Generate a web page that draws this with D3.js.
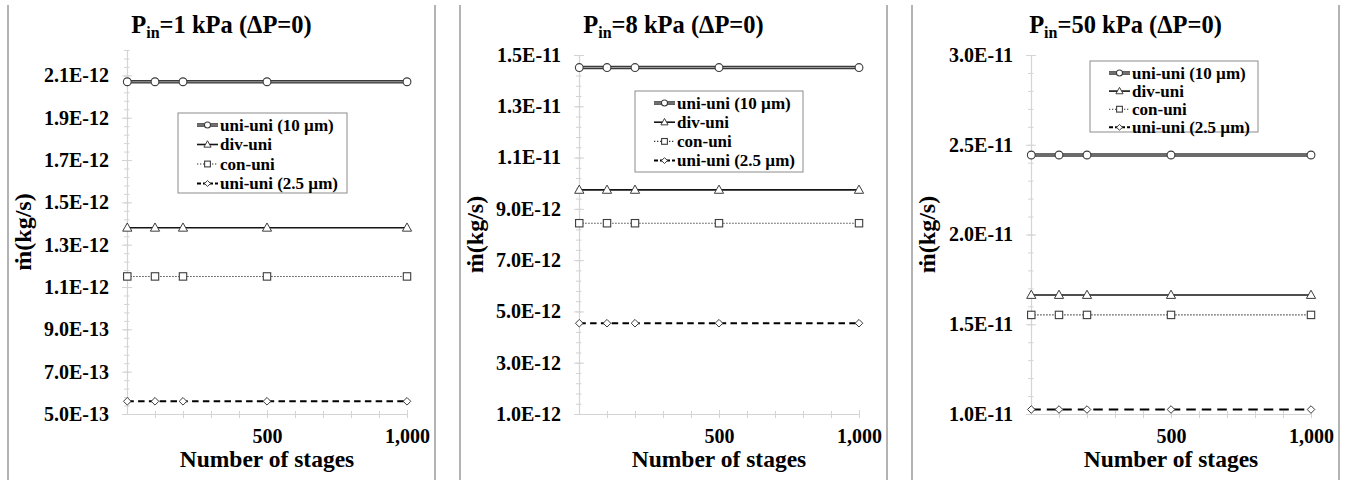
<!DOCTYPE html>
<html>
<head>
<meta charset="utf-8">
<script src="https://cdn.jsdelivr.net/npm/d3@7"></script>
<style>
  body { margin: 0; background: #fff; }
  text { font-family: "Liberation Serif", "Times New Roman", serif; font-weight: bold; fill: #000; }
</style>
</head>
<body>
<svg id="chart" width="1349" height="480"></svg>
<script>
// Number of stages sampled in every run
const stages = [1, 100, 200, 500, 1000];
const seriesNames = ["uni-uni (10 µm)", "div-uni", "con-uni", "uni-uni (2.5 µm)"];
const panelPressures = ["1 kPa", "8 kPa", "50 kPa"];

// Mass flow rate (kg/s), inlet pressure 1 kPa
const p1UniUni10 = [2.07e-12, 2.07e-12, 2.07e-12, 2.07e-12, 2.07e-12];
const p1DivUni = [1.38e-12, 1.38e-12, 1.38e-12, 1.38e-12, 1.38e-12];
const p1ConUni = [1.15e-12, 1.15e-12, 1.15e-12, 1.15e-12, 1.15e-12];
const p1UniUni25 = [5.6e-13, 5.6e-13, 5.6e-13, 5.6e-13, 5.6e-13];

// Mass flow rate (kg/s), inlet pressure 8 kPa
const p2UniUni10 = [1.451e-11, 1.451e-11, 1.451e-11, 1.451e-11, 1.451e-11];
const p2DivUni = [9.74e-12, 9.74e-12, 9.74e-12, 9.74e-12, 9.74e-12];
const p2ConUni = [8.44e-12, 8.44e-12, 8.44e-12, 8.44e-12, 8.44e-12];
const p2UniUni25 = [4.54e-12, 4.54e-12, 4.54e-12, 4.54e-12, 4.54e-12];

// Mass flow rate (kg/s), inlet pressure 50 kPa
const p3UniUni10 = [2.443e-11, 2.443e-11, 2.443e-11, 2.443e-11, 2.443e-11];
const p3DivUni = [1.663e-11, 1.663e-11, 1.663e-11, 1.663e-11, 1.663e-11];
const p3ConUni = [1.552e-11, 1.552e-11, 1.552e-11, 1.552e-11, 1.552e-11];
const p3UniUni25 = [1.025e-11, 1.025e-11, 1.025e-11, 1.025e-11, 1.025e-11];

// Axis extents and tick labels
const xDomain = [0, 1000];
const xTicks = [500, 1000];
const xMinorTicks = [100, 200, 300, 400, 500, 600, 700, 800, 900, 1000];
const p1YDomain = [5e-13, 2.22e-12];
const p2YDomain = [1e-12, 1.5e-11];
const p3YDomain = [1e-11, 3e-11];
const p1YTicks = [5e-13, 7e-13, 9e-13, 1.1e-12, 1.3e-12, 1.5e-12, 1.7e-12, 1.9e-12, 2.1e-12];
const p2YTicks = [1e-12, 3e-12, 5e-12, 7e-12, 9e-12, 1.1e-11, 1.3e-11, 1.5e-11];
const p3YTicks = [1e-11, 1.5e-11, 2e-11, 2.5e-11, 3e-11];
const p1YMinorStep = 4e-14;
const p2YMinorStep = 4e-13;
const p3YMinorStep = 1e-12;

const panels = [
  { pressure: panelPressures[0], values: [p1UniUni10, p1DivUni, p1ConUni, p1UniUni25],
    yDomain: p1YDomain, yTicks: p1YTicks, minorStep: p1YMinorStep, top: 50,
    dash: "6.5,4.3", legend: { x: 178, y: 113, w: 169, h: 80, row: 19.5 } },
  { pressure: panelPressures[1], values: [p2UniUni10, p2DivUni, p2ConUni, p2UniUni25],
    yDomain: p2YDomain, yTicks: p2YTicks, minorStep: p2YMinorStep, top: 55,
    dash: "6.5,4.3", legend: { x: 183, y: 91, w: 168, h: 81, row: 19.2 } },
  { pressure: panelPressures[2], values: [p3UniUni10, p3DivUni, p3ConUni, p3UniUni25],
    yDomain: p3YDomain, yTicks: p3YTicks, minorStep: p3YMinorStep, top: 55,
    dash: "9.5,6", legend: { x: 186, y: 61, w: 168, h: 71, row: 18.1 } }
];

const svg = d3.select("#chart");
const panelWidth = 452;
const plotLeft = 127, plotRight = 407, plotBottom = 414;
const axisColor = "#d4d4d4";
const fmtY = d => d.toExponential(1).toUpperCase();

// Marker shapes (white fill, dark outline)
function drawMarker(g, kind, s) {
  const stroke = "#3c3c3c";
  if (kind === 0) {
    g.append("circle").attr("r", 3.9 * s).attr("fill", "#fff").attr("stroke", stroke).attr("stroke-width", 1.1);
  } else if (kind === 1) {
    g.append("path").attr("d", `M0,${-4.8 * s}L${4.6 * s},${3.4 * s}L${-4.6 * s},${3.4 * s}Z`)
      .attr("fill", "#fff").attr("stroke", stroke).attr("stroke-width", 1);
  } else if (kind === 2) {
    g.append("rect").attr("x", -3.7 * s).attr("y", -3.7 * s).attr("width", 7.4 * s).attr("height", 7.4 * s)
      .attr("fill", "#fff").attr("stroke", stroke).attr("stroke-width", 1.1);
  } else {
    g.append("path").attr("d", `M0,${-3.8 * s}L${3.8 * s},0L0,${3.8 * s}L${-3.8 * s},0Z`)
      .attr("fill", "#fff").attr("stroke", stroke).attr("stroke-width", 1);
  }
}

// Line style for each series
function drawLine(g, kind, d, dash) {
  if (kind === 0) {
    g.append("path").attr("d", d).attr("fill", "none").attr("stroke", "#3a3a3a").attr("stroke-width", 3.6);
    g.append("path").attr("d", d).attr("fill", "none").attr("stroke", "#9c9c9c").attr("stroke-width", 1.1);
  } else if (kind === 1) {
    g.append("path").attr("d", d).attr("fill", "none").attr("stroke", "#151515").attr("stroke-width", 1.6);
  } else if (kind === 2) {
    g.append("path").attr("d", d).attr("fill", "none").attr("stroke", "#333").attr("stroke-width", 1.1)
      .attr("stroke-dasharray", "1.3,1.7");
  } else {
    g.append("path").attr("d", d).attr("fill", "none").attr("stroke", "#000").attr("stroke-width", 2)
      .attr("stroke-dasharray", dash);
  }
}

panels.forEach((p, i) => {
  const g = svg.append("g").attr("transform", `translate(${i * panelWidth},0)`);

  // Panel frame
  [8, 435].forEach(xx => {
    g.append("line").attr("x1", xx).attr("x2", xx).attr("y1", 5).attr("y2", 480)
      .attr("stroke", "#8a8a8a").attr("stroke-width", 1.3);
  });

  const x = d3.scaleLinear().domain(xDomain).range([plotLeft, plotRight]);
  const y = d3.scaleLinear().domain(p.yDomain).range([plotBottom, p.top]);

  // Minor y ticks
  const nMinor = Math.round((p.yDomain[1] - p.yDomain[0]) / p.minorStep);
  const yMinor = d3.range(0, nMinor + 1).map(k => p.yDomain[0] + k * p.minorStep);
  const gyMinor = g.append("g").attr("transform", `translate(${plotLeft},0)`)
    .call(d3.axisLeft(y).tickValues(yMinor).tickSize(3).tickSizeOuter(0).tickFormat(""));
  gyMinor.select(".domain").remove();
  gyMinor.selectAll(".tick line").attr("x1", 2.5).attr("stroke", axisColor);

  // Major y ticks and labels
  const gy = g.append("g").attr("transform", `translate(${plotLeft},0)`)
    .call(d3.axisLeft(y).tickValues(p.yTicks).tickSize(5).tickSizeOuter(0).tickPadding(13).tickFormat(fmtY));
  gy.select(".domain").attr("stroke", axisColor).attr("stroke-width", 1.2);
  gy.selectAll(".tick line").attr("x1", 5).attr("stroke", axisColor);
  gy.selectAll(".tick text").attr("font-size", 20).attr("fill", "#000")
    .attr("font-family", '"Liberation Serif", serif').attr("font-weight", "bold");

  // Minor x ticks
  const gxMinor = g.append("g").attr("transform", `translate(0,${plotBottom})`)
    .call(d3.axisBottom(x).tickValues(xMinorTicks).tickSize(4).tickSizeOuter(0).tickFormat(""));
  gxMinor.select(".domain").remove();
  gxMinor.selectAll(".tick line").attr("y1", -3).attr("stroke", axisColor);

  // Major x axis
  const gx = g.append("g").attr("transform", `translate(0,${plotBottom})`)
    .call(d3.axisBottom(x).tickValues(xTicks).tickSize(4).tickSizeOuter(0).tickPadding(11).tickFormat(d3.format(",")));
  gx.select(".domain").attr("stroke", axisColor).attr("stroke-width", 1.2);
  gx.selectAll(".tick line").attr("y1", -4).attr("stroke", axisColor);
  gx.selectAll(".tick text").attr("font-size", 20).attr("fill", "#000")
    .attr("font-family", '"Liberation Serif", serif').attr("font-weight", "bold");

  // Series lines and markers
  const line = d3.line().x((d, k) => x(stages[k])).y(d => y(d));
  p.values.forEach((vals, s) => {
    const gs = g.append("g");
    drawLine(gs, s, line(vals), p.dash);
    vals.forEach((v, k) => {
      drawMarker(gs.append("g").attr("transform", `translate(${x(stages[k])},${y(v)})`), s, 1);
    });
  });

  // Legend
  const L = p.legend;
  const gl = g.append("g").attr("transform", `translate(${L.x},${L.y})`);
  gl.append("rect").attr("width", L.w).attr("height", L.h).attr("fill", "#fff")
    .attr("stroke", "#8c8c8c").attr("stroke-width", 1);
  seriesNames.forEach((name, s) => {
    const cy = 12 + s * L.row;
    const gr = gl.append("g").attr("transform", `translate(0,${cy})`);
    drawLine(gr, s, "M19,0L40,0", s === 3 ? "4,2" : p.dash);
    drawMarker(gr.append("g").attr("transform", "translate(29.5,0)"), s, 0.78);
    gr.append("text").attr("x", 42).attr("y", 5.6).attr("font-size", 17).text(name);
  });

  // Title with subscript
  const t = g.append("text").attr("x", 221.5).attr("y", 33).attr("text-anchor", "middle").attr("font-size", 24.5);
  t.append("tspan").text("P");
  t.append("tspan").attr("font-size", 16).attr("dy", 5).text("in");
  t.append("tspan").attr("dy", -5).text(`=${p.pressure} (ΔP=0)`);

  // Axis titles
  g.append("text").attr("x", (plotLeft + plotRight) / 2).attr("y", 467).attr("text-anchor", "middle")
    .attr("font-size", 23.5).text("Number of stages");
  g.append("text").attr("transform", `translate(31,${(plotBottom + p.top) / 2}) rotate(-90)`)
    .attr("text-anchor", "middle").attr("font-size", 24).text("ṁ(kg/s)");
});
</script>
</body>
</html>
